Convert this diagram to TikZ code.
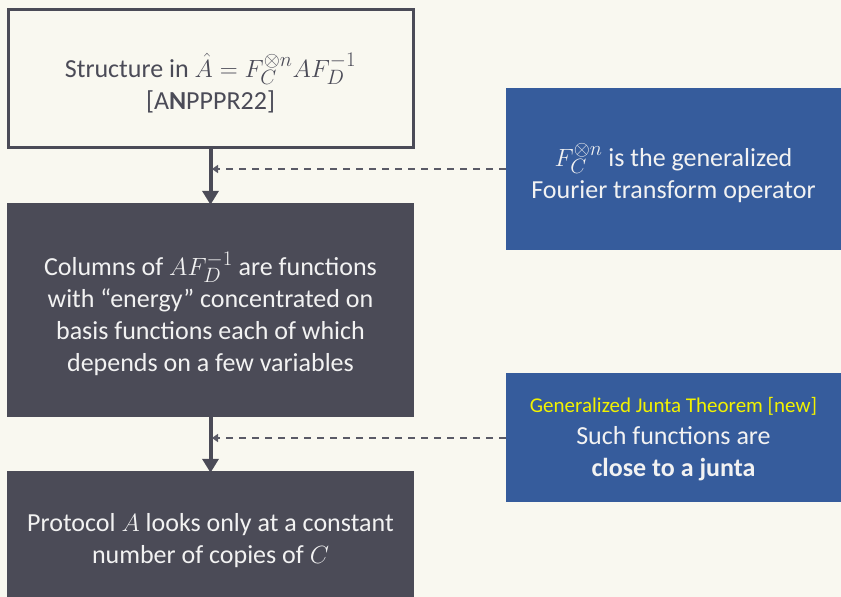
\documentclass[tikz,border=0pt]{standalone}
\usepackage{fontspec}
\setmainfont{Carlito}
\DeclareMathSizes{26}{29}{21}{16}
\usetikzlibrary{arrows.meta}
\definecolor{bg}{HTML}{F9F8F0}
\definecolor{darkbox}{HTML}{4B4B57}
\definecolor{bluebox}{HTML}{365C9C}
\definecolor{lighttext}{HTML}{F2F2F2}
\definecolor{yel}{HTML}{F2F200}
\definecolor{dashc}{HTML}{5A5A66}
\tikzset{
  lightbox/.style={draw=darkbox, line width=3pt, fill=bg, text=darkbox, align=center, inner sep=0pt, font=\fontsize{26}{32}\selectfont},
  lighttxt/.style={text=darkbox, align=center, inner sep=0pt, font=\fontsize{26}{32}\selectfont},
  darkstep/.style={fill=darkbox, text=lighttext, align=center, inner sep=0pt, font=\fontsize{26}{32}\selectfont},
  bluestep/.style={fill=bluebox, text=lighttext, align=center, inner sep=0pt, font=\fontsize{26}{32}\selectfont},
  downarrow/.style={draw=darkbox, line width=4pt, -{Triangle[length=14pt,width=16pt]}},
  dasharrow/.style={draw=dashc, line width=2pt, dash pattern=on 7pt off 6pt, -{Triangle[length=6pt,width=8pt]}},
}
\begin{document}
\begin{tikzpicture}[x=1pt,y=-1pt]
\useasboundingbox (0,0) rectangle (841,597);
\clip (0,0) rectangle (841,597);
\fill[bg] (0,0) rectangle (841,597);
\node[lightbox, minimum width=405pt, minimum height=138pt] (b1) at (210.5,78) {};
\node[lighttxt] (b1t) at (210.5,83) {Structure in $\hat{A} = F_C^{\otimes n} A F_D^{-1}$\\{}[A\textbf{N}PPPR22]};
\node[darkstep, minimum width=407pt, minimum height=214pt] (b2) at (210.5,310) {};
\node[darkstep, anchor=center] (b2t) at (210.5,314) {Columns of $AF_D^{-1}$ are functions\\with “energy” concentrated on\\basis functions each of which\\depends on a few variables};
\node[darkstep, minimum width=407pt, minimum height=160pt] (b3) at (210.5,551) {};
\node[darkstep, anchor=center] (b3t) at (210.5,541) {Protocol $A$ looks only at a constant\\number of copies of $C$};
\node[bluestep, minimum width=335pt, minimum height=162pt] (r1) at (673.5,169) {};
\node[bluestep, anchor=center] (r1t) at (673.5,173) {$F_C^{\otimes n}$ is the generalized\\Fourier transform operator};
\node[bluestep, minimum width=335pt, minimum height=129pt] (r2) at (673.5,437.5) {};
\node[bluestep, anchor=center] (r2t) at (673.5,439) {{\color{yel}\fontsize{21}{28}\selectfont Generalized Junta Theorem [new]}\\Such functions are\\\textbf{close to a junta}};
\draw[downarrow] (b1.south) -- ([yshift=-2pt]b2.north);
\draw[downarrow] (b2.south) -- ([yshift=-2pt]b3.north);
\coordinate (m1) at (212,169);
\coordinate (m2) at (212,438);
\draw[dasharrow] (r1.west) -- (m1);
\draw[dasharrow] (r2.west |- m2) -- (m2);
\end{tikzpicture}
\end{document}
